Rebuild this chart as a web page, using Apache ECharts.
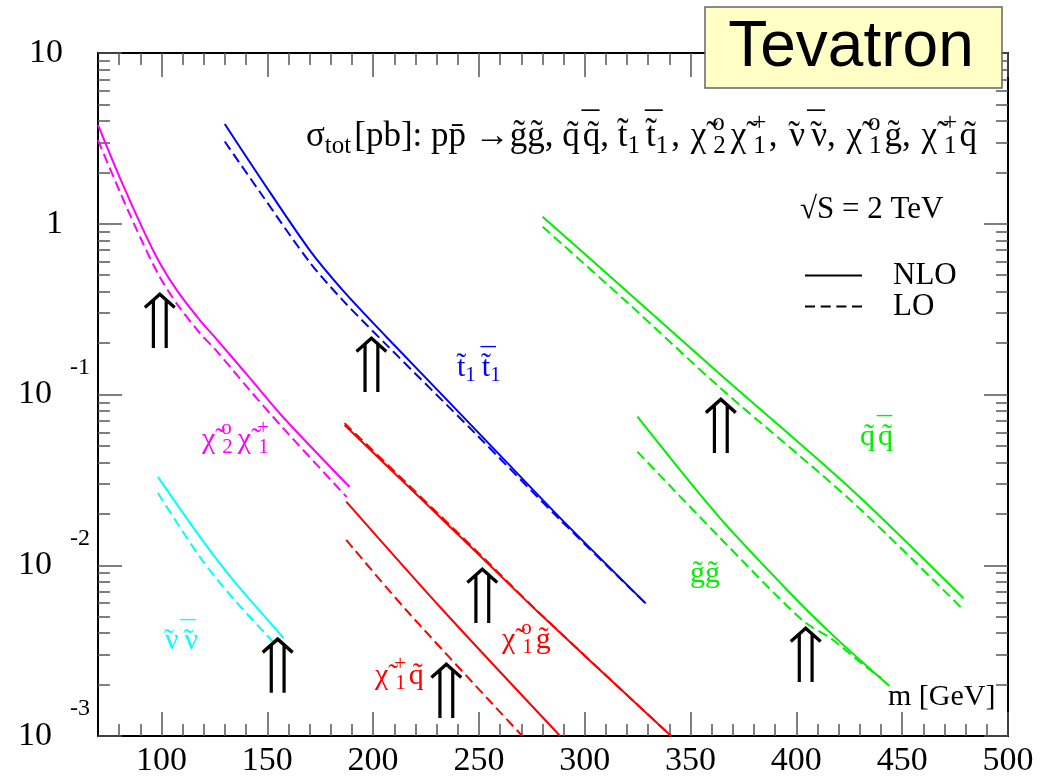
<!DOCTYPE html>
<html>
<head>
<meta charset="utf-8">
<script src="https://cdn.jsdelivr.net/npm/echarts@6/dist/echarts.min.js"></script>
<style>
  html, body { margin: 0; padding: 0; background: #fff; }
  #chart { width: 1056px; height: 782px; }
</style>
</head>
<body>
<div id="chart"></div>
<script>
// mass [GeV], sigma [pb]
const chiChiNLO = [[70, 3.79], [80.4, 1.85], [91.2, 0.931], [99.2, 0.589], [107.7, 0.40], [118.1, 0.273], [126, 0.211], [141.7, 0.125], [157.4, 0.0738], [188.9, 0.0287]];
const chiChiLO = [[70, 3.09], [80.4, 1.53], [91.2, 0.771], [99.2, 0.488], [107.7, 0.334], [118.1, 0.229], [126, 0.180], [141.7, 0.106], [157.4, 0.0637], [187.5, 0.0251]];
const stopNLO = [[129.9, 3.84], [146.4, 1.88], [170, 0.701], [185.6, 0.409], [206.2, 0.218], [248.6, 0.0619], [287.9, 0.0192], [328.8, 0.00598]];
const stopLO = [[129.9, 3.03], [146.4, 1.54], [170, 0.596], [185.6, 0.357], [206.2, 0.196], [248.6, 0.0586], [287.9, 0.0187], [328.8, 0.00598]];
const sqNLO = [[280.1, 1.10], [320.9, 0.392], [363.4, 0.133], [426.3, 0.0276], [479, 0.0064]];
const sqLO = [[280.1, 0.96], [320.9, 0.339], [363.4, 0.111], [426.3, 0.0236], [479, 0.00547]];
const glNLO = [[324.9, 0.0741], [363.4, 0.0192], [400, 0.0063], [416.7, 0.00395], [431, 0.00272], [444, 0.00196]];
const glLO = [[324.9, 0.0462], [363.4, 0.0147], [402.7, 0.00478], [416.7, 0.0037], [431, 0.00265], [439.8, 0.0022]];
const chiGlNLO = [[186.5, 0.0662], [251.7, 0.011], [276.9, 0.00547], [340.8, 0.001]];
const chiGlLO = [[186.5, 0.068], [251.7, 0.0112], [276.9, 0.0055], [340.8, 0.001]];
const chiSqNLO = [[187.3, 0.0236], [232.9, 0.00547], [288.4, 0.001]];
const chiSqLO = [[187.3, 0.01406], [215.6, 0.00547], [270.5, 0.001]];
const snuNLO = [[98.3, 0.0329], [118.1, 0.0147], [133.8, 0.0082], [157.7, 0.00375]];
const snuLO = [[98.3, 0.0265], [118.1, 0.0112], [133.8, 0.0064], [155, 0.00333]];
// double arrows (centre of each arrow)
const arrows = [[99.2, 0.273], [199.2, 0.151], [154.9, 0.00261], [251.6, 0.0067], [234.6, 0.00186], [364.3, 0.0662], [404.4, 0.00302]];

const xLabels = [100, 150, 200, 250, 300, 350, 400, 450, 500];
const xMinor = [];
for (let v = 80; v < 500; v += 10) if (v % 50 !== 0) xMinor.push(v);
const yMinor = [];
[0.001, 0.01, 0.1, 1].forEach(d => { for (let k = 2; k <= 9; k++) yMinor.push(+(k * d).toPrecision(3)); });

const SERIF = 'Liberation Serif';
const chart = echarts.init(document.getElementById('chart'), null, { renderer: 'canvas' });

function xAxisOf (pos, ticks, len, main) {
  return {
    type: 'value', position: pos, min: 70, max: 500, gridIndex: 0,
    axisLine: { show: main, onZero: false, lineStyle: { color: '#000', width: 2 } },
    axisTick: { show: true, inside: true, length: len, customValues: ticks, lineStyle: { color: '#555', width: 1.5 } },
    axisLabel: { show: main && pos === 'bottom', customValues: xLabels, margin: 8, fontFamily: SERIF, fontSize: 34, color: '#000' },
    splitLine: { show: false }
  };
}
function yAxisOf (pos, len, main) {
  const tick = { show: true, inside: true, length: len, lineStyle: { color: '#555', width: 1.5 } };
  if (!main) tick.customValues = yMinor;
  return {
    type: 'log', logBase: 10, position: pos, min: 0.001, max: 10, gridIndex: 0,
    axisLine: { show: main, onZero: false, lineStyle: { color: '#000', width: 2 } },
    axisTick: tick,
    axisLabel: {
      show: main && pos === 'left',
      margin: 8,
      formatter: v => {
        const e = Math.round(Math.log10(v));
        if (e === 1) return '{b|10}{e| }';
        if (e === 0) return '{b|1}{e| }';
        return '{b|10}{s|' + e + '}';
      },
      rich: {
        b: { fontFamily: SERIF, fontSize: 34, color: '#000' },
        e: { fontFamily: SERIF, fontSize: 24, color: '#000', padding: [0, 0, 54, 0], width: 27 },
        s: { fontFamily: SERIF, fontSize: 24, color: '#000', padding: [0, 0, 54, 0], width: 38, align: 'right' }
      }
    },
    splitLine: { show: false },
    minorTick: { show: false }
  };
}

function curve (name, data, color, dashed) {
  return {
    type: 'line', name: name, data: data, symbol: 'none', smooth: 0.3,
    xAxisIndex: 0, yAxisIndex: 0, silent: true, z: 3, color: color,
    itemStyle: { color: color },
    lineStyle: { color: color, width: 2, type: dashed ? [10, 5] : 'solid' }
  };
}

function richFor (size) {
  const s = Math.round(size * 0.7);
  const f = n => n + 'px "Liberation Serif"';
  return {
    c: { font: f(size), padding: [0, 4, 0, 2] },
    sub: { font: f(s), padding: [Math.round(size * 0.5), 3, 0, 0] },
    z: { font: f(s), padding: [0, 0, Math.round(size * 0.8), 2], width: 1, align: 'left' },
    bar: { font: f(size), padding: [0, 0, Math.round(size * 0.5), 2], width: 1, align: 'left' },
    tl: { font: f(size), padding: [0, 0, 0, 2], width: 1, align: 'left' }
  };
}
function label (text, x, y, color, size) {
  size = size || 30;
  return {
    type: 'text', x: x, y: y, z: 50,
    style: { text: text, font: size + 'px "Liberation Serif"', fill: color, align: 'left', verticalAlign: 'middle', rich: richFor(size) }
  };
}

const CHI = '{c|\u03c7\u0303}';
const title = '\u03c3{sub|tot}[pb]: pp\u0304 \u2192g\u0303g\u0303, q\u0303{bar|\u00af}q\u0303, t\u0303{sub|1}{bar|\u00af}t\u0303{sub|1}, ' +
  CHI + '{z|o}{sub|2}' + CHI + '{z|+}{sub|1}, {tl|\u02dc}\u03bd{bar|\u00af}{tl|\u02dc}\u03bd, ' +
  CHI + '{z|o}{sub|1}g\u0303, ' + CHI + '{z|+}{sub|1}q\u0303';

const option = {
  animation: false,
  backgroundColor: '#fff',
  grid: { left: 98, right: 48, top: 53, bottom: 46, containLabel: false, outerBoundsMode: 'none' },
  xAxis: [
    xAxisOf('bottom', xLabels, 24, true),
    xAxisOf('bottom', xMinor, 12, false),
    xAxisOf('top', xLabels, 24, true),
    xAxisOf('top', xMinor, 12, false)
  ],
  yAxis: [
    yAxisOf('left', 24, true),
    yAxisOf('left', 12, false),
    yAxisOf('right', 24, true),
    yAxisOf('right', 12, false)
  ],
  legend: {
    data: [
      { name: 'NLO', icon: 'path://M0,0 L57,0 L57,2 L0,2 Z', itemStyle: { color: '#000' } },
      { name: 'LO', icon: 'path://M0,0 L10,0 L10,2 L0,2 Z M15.7,0 L25.7,0 L25.7,2 L15.7,2 Z M31.4,0 L41.4,0 L41.4,2 L31.4,2 Z M47,0 L57,0 L57,2 L47,2 Z', itemStyle: { color: '#000' } }
    ],
    orient: 'vertical', left: 800, top: 255,
    itemWidth: 57, itemHeight: 14, itemGap: 0, selectedMode: false,
    textStyle: { fontFamily: SERIF, fontSize: 31, color: '#000', lineHeight: 30, padding: [0, 0, 0, 26] }
  },
  series: [
    curve('NLO', [], '#000', false),
    curve('LO', [], '#000', true),
    curve('chi20chi1+ NLO', chiChiNLO, '#ff00ff', false),
    curve('chi20chi1+ LO', chiChiLO, '#ff00ff', true),
    curve('t1t1 NLO', stopNLO, '#0000ff', false),
    curve('t1t1 LO', stopLO, '#0000ff', true),
    curve('qq NLO', sqNLO, '#00ee00', false),
    curve('qq LO', sqLO, '#00ee00', true),
    curve('gg NLO', glNLO, '#00ee00', false),
    curve('gg LO', glLO, '#00ee00', true),
    curve('chi10g NLO', chiGlNLO, '#ff0000', false),
    curve('chi10g LO', chiGlLO, '#ff0000', true),
    curve('chi1+q NLO', chiSqNLO, '#ff0000', false),
    curve('chi1+q LO', chiSqLO, '#ff0000', true),
    curve('snu NLO', snuNLO, '#00ffff', false),
    curve('snu LO', snuLO, '#00ffff', true),
    {
      type: 'scatter', name: 'limits', data: arrows, xAxisIndex: 0, yAxisIndex: 0, z: 4, silent: true,
      symbol: 'path://M15,0 L30,14 L28,16.5 L15,4.5 L2,16.5 L0,14 Z M7.5,7 L10.5,7 L10.5,55 L7.5,55 Z M19.5,7 L22.5,7 L22.5,55 L19.5,55 Z',
      symbolSize: [32, 56],
      itemStyle: { color: '#000', opacity: 1 }
    }
  ],
  graphic: [
    label(title, 306, 137, '#000', 35),
    label('\u221aS = 2 TeV', 800, 210, '#000', 31),
    label('t\u0303{sub|1}{bar|\u00af}t\u0303{sub|1}', 457, 368, '#0000ff'),
    label('q\u0303{bar|\u00af}q\u0303', 860, 437, '#00ee00'),
    label('g\u0303g\u0303', 690, 574, '#00ee00'),
    label(CHI + '{z|o}{sub|2}' + CHI + '{z|+}{sub|1}', 200, 440, '#ff00ff'),
    label('{tl|\u02dc}\u03bd{bar|\u00af}{tl|\u02dc}\u03bd', 162, 641, '#00ffff'),
    label(CHI + '{z|o}{sub|1}g\u0303', 500, 640, '#ff0000'),
    label(CHI + '{z|+}{sub|1}q\u0303', 373, 676, '#ff0000'),
    label('m [GeV]', 888, 697, '#000'),
    {
      type: 'group', z: 100,
      children: [
        { type: 'rect', z: 100, shape: { x: 705, y: 7, width: 297, height: 81 }, style: { fill: '#ffffc6', stroke: '#666', lineWidth: 1.5 } },
        { type: 'text', z: 101, x: 851, y: 48, style: { text: 'Tevatron', font: '64px "Liberation Sans"', fill: '#000', align: 'center', verticalAlign: 'middle' } }
      ]
    }
  ]
};
chart.setOption(option);
</script>
</body>
</html>
